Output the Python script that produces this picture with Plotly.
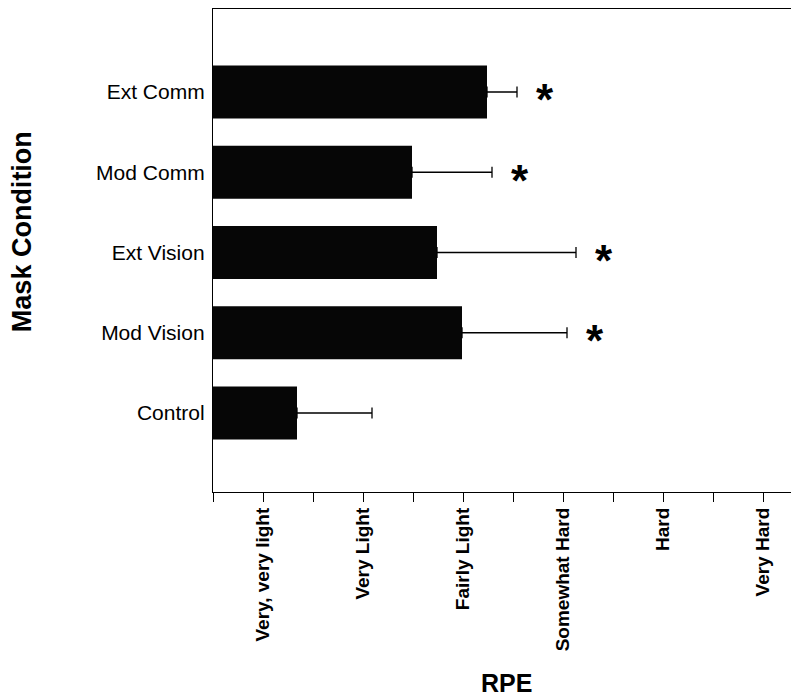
import plotly.graph_objects as go

# Data
conditions = ["Control", "Mod Vision", "Ext Vision", "Mod Comm", "Ext Comm"]
rpe_mean = [7.68, 10.98, 10.48, 9.98, 11.48]
rpe_err = [1.50, 2.10, 2.78, 1.60, 0.60]
significant = [False, True, True, True, True]

tick_values = [7, 9, 11, 13, 15, 17]
tick_labels = ["Very, very light", "Very Light", "Fairly Light", "Somewhat Hard", "Hard", "Very Hard"]

FONT = "Liberation Sans, Arial, sans-serif"

ypos = list(range(len(conditions)))

all_ticks = list(range(6, 18))
all_text = [tick_labels[tick_values.index(t)] if t in tick_values else "" for t in all_ticks]

fig = go.Figure()
fig.add_trace(go.Bar(
    x=rpe_mean, y=ypos, orientation="h",
    marker=dict(color="#060606", line=dict(width=0)),
    width=0.66,
    error_x=dict(type="data", array=rpe_err, arrayminus=[0] * len(rpe_err),
                 symmetric=False, color="black", thickness=1.3, width=5.5),
    showlegend=False,
))

# significance asterisks
for i, (m, e, s) in enumerate(zip(rpe_mean, rpe_err, significant)):
    if s:
        fig.add_annotation(
            x=m + e + 0.56, y=i, xref="x", yref="y",
            text="<b>*</b>", showarrow=False,
            font=dict(family=FONT, size=44, color="black"),
            xanchor="center", yanchor="middle", yshift=-8,
        )

fig.add_annotation(
    x=0.5, y=-0.395, xref="paper", yref="paper", text="<b>RPE</b>",
    showarrow=False, font=dict(family=FONT, size=25, color="black"),
    xanchor="center", yanchor="middle",
)
fig.add_annotation(
    x=-0.326, y=0.54, xref="paper", yref="paper", text="<b>Mask Condition</b>",
    showarrow=False, font=dict(family=FONT, size=27, color="black"),
    textangle=-90, xanchor="center", yanchor="middle",
)

# page body has an 8px margin; size the figure so the plot lands where the reference has it
fig.update_layout(
    width=791, height=690,
    margin=dict(l=205, r=0, t=1, b=206, autoexpand=False),
    paper_bgcolor="white", plot_bgcolor="white",
    xaxis=dict(
        range=[6, 6 + 586 / 50], tickmode="array", tickvals=all_ticks, ticktext=all_text,
        tickangle=-90, ticks="outside", ticklen=9, tickwidth=1, tickcolor="black",
        showline=True, linecolor="black", linewidth=1.3, mirror=True,
        showgrid=False, zeroline=False, automargin=False, ticklabelstandoff=-2,
        tickfont=dict(family=FONT, size=19, color="black", weight="bold"),
    ),
    yaxis=dict(
        range=[-0.984, 5.034], tickmode="array", tickvals=ypos, ticktext=conditions,
        ticks="", showline=True, linecolor="black", linewidth=1.3,
        showgrid=False, zeroline=False, ticklabelstandoff=3, automargin=False,
        tickfont=dict(family=FONT, size=21, color="black"),
    ),
)

fig.write_html("out.html")
